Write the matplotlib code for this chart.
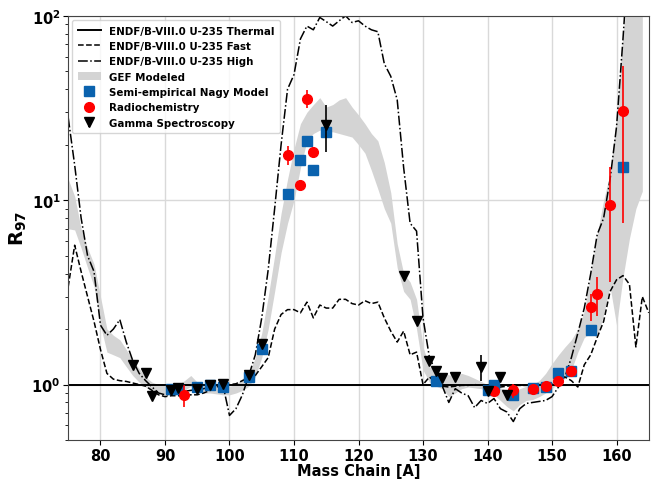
import numpy as np
import matplotlib
matplotlib.use("Agg")
import matplotlib.pyplot as plt

# mass chains for the evaluated-data curves
mass = np.arange(75, 166)

# ENDF/B-VIII.0 U-235 ratios (thermal is the reference, so it is 1 everywhere)
r_thermal = np.ones(len(mass))
r_fast = [3.4, 5.7, 4.1, 3.0, 2.2, 1.55, 1.15, 1.07, 1.05, 1.04,
          1.02, 1.0, 0.98, 0.93, 0.88, 0.86, 0.87, 0.87, 0.87, 0.88,
          0.88, 0.9, 0.93, 0.97, 1.0, 1.0, 1.01, 1.05, 1.09, 1.12,
          1.25, 1.4, 2.0, 2.4, 2.55, 2.55, 2.45, 2.8, 2.3, 2.7,
          2.6, 2.6, 2.9, 2.9, 2.75, 2.7, 2.85, 2.75, 2.8, 2.3,
          1.95, 1.7, 1.95, 1.45, 1.5, 1.0, 1.1, 1.02, 0.98, 0.97,
          0.98, 0.99, 0.99, 1.0, 0.99, 0.98, 0.98, 0.97, 0.98, 0.99,
          0.99, 0.99, 1.0, 1.0, 1.0, 1.0, 1.05, 1.1, 1.05, 0.97,
          1.28, 1.45, 1.8, 2.2, 3.2, 3.7, 3.9, 3.5, 1.6, 3.0,
          2.45]
r_high = [28, 15.5, 8.0, 5.0, 4.1, 2.1, 1.85, 2.0, 2.25, 1.7,
          1.35, 1.15, 1.05, 0.97, 0.9, 0.88, 0.88, 0.9, 0.92, 0.93,
          0.94, 0.95, 0.97, 0.98, 0.99, 0.68, 0.74, 0.88, 1.12, 1.45,
          2.3, 4.2, 9.0, 20, 40, 48, 75, 88, 84, 98,
          93, 88, 94, 100, 92, 94, 88, 84, 82, 55,
          47, 35, 15, 7.5, 6.8, 2.3, 1.4, 1.18, 0.98, 0.8,
          0.95, 0.9, 0.87, 0.75, 0.82, 0.79, 0.84, 0.74, 0.71, 0.63,
          0.74, 0.79, 0.8, 0.81, 0.82, 0.86, 0.97, 1.1, 1.4, 1.9,
          2.6, 4.0, 6.5, 8.0, 13, 25, 75, 250, 400, 400,
          400]

# GEF modeled band (A = 75..164)
gef_mass = np.arange(75, 165)
gef_hi = [13, 10.5, 7.0, 5.5, 4.5, 3.0, 2.0, 1.85, 1.75, 1.55,
          1.35, 1.22, 1.1, 1.03, 1.0, 0.99, 0.99, 1.0, 1.05, 1.12,
          1.03, 1.0, 1.0, 0.98, 0.97, 0.98, 1.0, 1.08, 1.15, 1.4,
          1.9, 3.0, 5.0, 8.5, 13, 19, 26, 30, 33, 36,
          32, 33, 35, 36, 32, 29, 26, 23, 21, 16,
          11, 5.8, 4.0, 3.6, 2.9, 1.6, 1.25, 1.18, 1.15, 1.13,
          1.12, 1.15, 1.12, 1.08, 1.04, 1.0, 0.98, 0.96, 0.93, 0.92,
          0.95, 0.98, 1.0, 1.05, 1.15, 1.3, 1.45, 1.6, 1.75, 2.0,
          2.5, 4.0, 6.5, 10, 14, 28, 80, 150, 150, 150]
gef_lo = [7.0, 6.9, 5.5, 4.3, 3.4, 2.1, 1.5, 1.45, 1.4, 1.25,
          1.12, 1.03, 0.97, 0.92, 0.9, 0.89, 0.89, 0.9, 0.93, 0.98,
          0.92, 0.9, 0.9, 0.89, 0.88, 0.88, 0.9, 0.93, 0.98, 1.1,
          1.4, 2.0, 3.2, 5.2, 7.5, 10, 15, 21, 23, 24,
          23.5, 23.5, 23, 22.5, 22, 20, 18, 14.5, 11.5, 9,
          7.5, 4.3, 3.2, 2.9, 2.0, 1.2, 1.03, 0.98, 0.95, 0.86,
          0.9, 0.95, 0.97, 0.96, 0.95, 0.93, 0.88, 0.82, 0.76, 0.72,
          0.78, 0.82, 0.83, 0.86, 0.9, 0.95, 1.02, 1.08, 1.2, 1.5,
          1.8, 1.9, 1.8, 2.4, 3.4, 2.1, 3.8, 6.2, 9.0, 11.2]

# semi-empirical Nagy model
nagy_a = [91, 92, 95, 97, 99, 103, 105, 109, 111, 112, 113, 115,
          132, 140, 141, 144, 147, 149, 151, 153, 156, 161]
nagy_r = [0.95, 0.95, 0.97, 0.99, 0.97, 1.1, 1.55, 10.8, 16.5, 21, 14.6, 23.4,
          1.05, 0.93, 0.99, 0.88, 0.96, 0.97, 1.16, 1.18, 1.97, 15.1]

# radiochemistry
rc_a = [93, 109, 111, 112, 113, 141, 144, 147, 149, 151, 153, 156, 157, 159, 161]
rc_r = [0.88, 17.6, 12.1, 35.5, 18.2, 0.92, 0.93, 0.95, 0.98, 1.04, 1.19,
        2.65, 3.1, 9.4, 30.5]
rc_err = [0.12, 2.0, 0.8, 4.0, 0.8, 0.03, 0.08, 0.03, 0.04, 0.03, 0.04,
          0.45, 0.75, 5.8, 23]

# gamma spectroscopy
gs_a = [85, 87, 88, 91, 92, 95, 97, 99, 103, 105, 115, 127, 129, 131,
        132, 133, 135, 139, 140, 142, 143]
gs_r = [1.28, 1.15, 0.87, 0.94, 0.96, 0.95, 1.0, 1.01, 1.13, 1.67, 25.5,
        3.86, 2.2, 1.35, 1.19, 1.09, 1.1, 1.25, 0.92, 1.1, 0.88]
gs_err = [0, 0.05, 0, 0, 0, 0, 0, 0, 0, 0, 7.2,
          0, 0, 0, 0, 0, 0, 0.2, 0, 0, 0]

plt.rcParams["font.weight"] = "bold"
plt.rcParams["axes.labelweight"] = "bold"

fig = plt.figure(figsize=(6.56, 4.81), dpi=100)
ax = fig.add_axes([0.104, 0.083, 0.885, 0.882])

ax.plot(mass, r_thermal, "-", color="black", lw=1.4,
        label="ENDF/B-VIII.0 U-235 Thermal")
ax.plot(mass, r_fast, "--", color="black", lw=1.1,
        label="ENDF/B-VIII.0 U-235 Fast")
ax.plot(mass, r_high, "-.", color="black", lw=1.1,
        label="ENDF/B-VIII.0 U-235 High")
ax.fill_between(gef_mass, gef_lo, gef_hi, color="#d4d4d4", lw=0,
                label="GEF Modeled")
ax.plot(nagy_a, nagy_r, "s", color="#0a62ae", ms=7, ls="none",
        label="Semi-empirical Nagy Model")
ax.errorbar(rc_a, rc_r, yerr=rc_err, fmt="o", color="red", ms=7,
            elinewidth=1.2, capsize=0, label="Radiochemistry")
ax.errorbar(gs_a, gs_r, yerr=gs_err, fmt="v", color="black", ms=7,
            elinewidth=1.2, capsize=0, label="Gamma Spectroscopy")

ax.set_yscale("log")
ax.set_xlim(75, 165)
ax.set_ylim(0.5, 100)
ax.set_xticks(range(80, 161, 10))
ax.grid(True, which="major", color="#d9d9d9", lw=1)
ax.set_axisbelow(True)
ax.tick_params(labelsize=10.5, pad=2)
ax.set_xlabel("Mass Chain [A]", fontsize=10.5, labelpad=0)
ax.set_ylabel("R$_{\\mathbf{97}}$", fontsize=14, labelpad=2)
for s in ax.spines.values():
    s.set_color("#444444")

ax.legend(loc="upper left", fontsize=7.4, handlelength=2.2,
          borderpad=0.55, labelspacing=0.52, handletextpad=0.8,
          borderaxespad=0.4)

fig.savefig("out.png", dpi=100)
